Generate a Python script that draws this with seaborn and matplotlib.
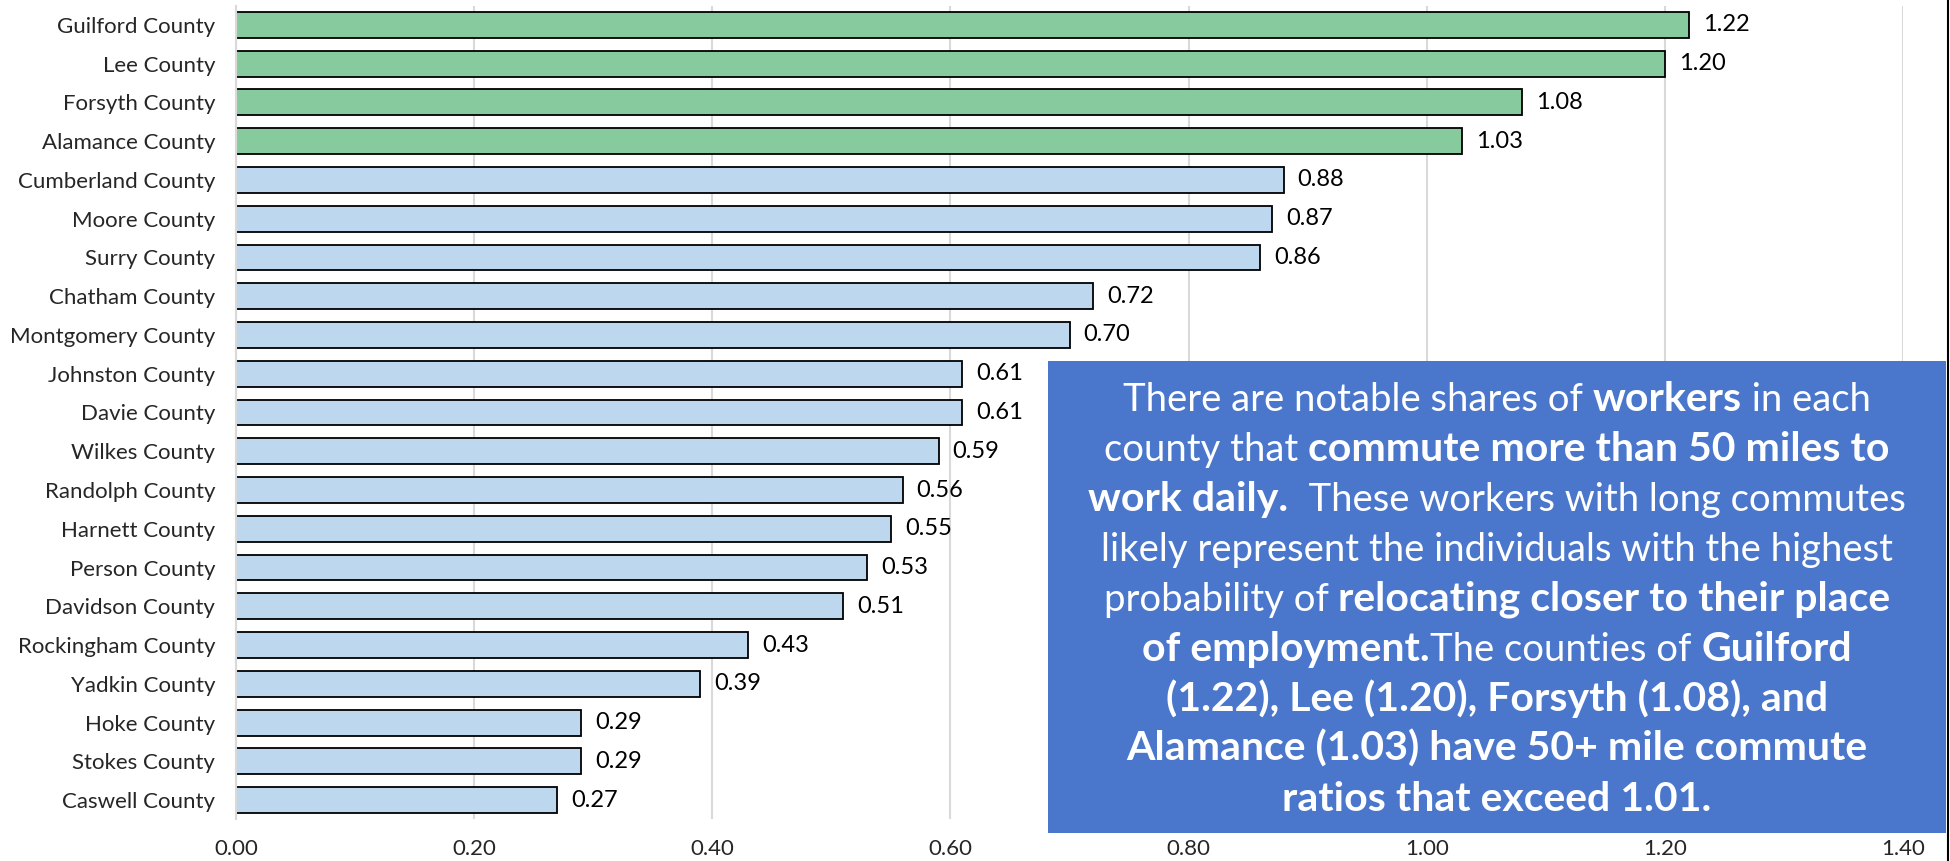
import matplotlib
matplotlib.use("Agg")
import matplotlib.pyplot as plt
from matplotlib.patches import Rectangle
from matplotlib.lines import Line2D
import pandas as pd
import seaborn as sns

# Commute ratio (workers commuting 50+ miles) by county
counties = [
    "Guilford County", "Lee County", "Forsyth County", "Alamance County",
    "Cumberland County", "Moore County", "Surry County", "Chatham County",
    "Montgomery County", "Johnston County", "Davie County", "Wilkes County",
    "Randolph County", "Harnett County", "Person County", "Davidson County",
    "Rockingham County", "Yadkin County", "Hoke County", "Stokes County",
    "Caswell County",
]
ratios = [1.22, 1.20, 1.08, 1.03, 0.88, 0.87, 0.86, 0.72, 0.70, 0.61, 0.61,
          0.59, 0.56, 0.55, 0.53, 0.51, 0.43, 0.39, 0.29, 0.29, 0.27]
threshold = 1.01
x_ticks = [0.0, 0.2, 0.4, 0.6, 0.8, 1.0, 1.2, 1.4]

# Callout text: each line is a list of (text, bold) runs
callout_lines = [
    [("There are notable shares of ", False), ("workers", True), (" in each", False)],
    [("county that ", False), ("commute more than 50 miles to", True)],
    [("work daily.", True), ("  These workers with long commutes", False)],
    [("likely represent the individuals with the highest", False)],
    [("probability of ", False), ("relocating closer to their place", True)],
    [("of employment.", True), ("The counties of ", False), ("Guilford", True)],
    [("(1.22), Lee (1.20), Forsyth (1.08), and", True)],
    [("Alamance (1.03) have 50+ mile commute", True)],
    [("ratios that exceed 1.01.", True)],
]

FONT = "Lato"
GREEN = "#86CA9E"
BLUE = "#BDD7EE"
BOX = "#4A77CC"
GRID = "#D9D9D9"

df = pd.DataFrame({
    "county": counties,
    "ratio": ratios,
    "group": ["above" if r > threshold else "below" for r in ratios],
})

sns.set_style("white")
plt.rcParams["font.family"] = [FONT, "DejaVu Sans"]

W, H = 1950, 861
fig = plt.figure(figsize=(W / 100, H / 100), dpi=100)
ax = fig.add_axes([236 / W, 1 - 819.4 / H, (1903 - 236) / W, (819.4 - 5.6) / H])

sns.barplot(data=df, x="ratio", y="county", hue="group", order=counties,
            palette={"above": GREEN, "below": BLUE}, saturation=1,
            dodge=False, width=0.67, edgecolor="black", linewidth=1.3,
            legend=False, ax=ax)

for cont in ax.containers:
    ax.bar_label(cont, fmt="%.2f", padding=10, fontsize=17, color="black")

ax.set_xlim(0, 1.4)
ax.set_xticks(x_ticks)
ax.set_xticklabels([f"{t:.2f}" for t in x_ticks])
ax.set_xlabel("")
ax.set_ylabel("")
ax.xaxis.grid(True, color=GRID, linewidth=1.5)
ax.set_axisbelow(True)
for side in ["top", "right", "bottom"]:
    ax.spines[side].set_visible(False)
ax.spines["left"].set_color(GRID)
ax.spines["left"].set_linewidth(1.5)
ax.tick_params(axis="y", length=0, pad=15, labelsize=16)
ax.tick_params(axis="x", length=0, pad=14, labelsize=16)

# Callout box
bx0, bx1, by0, by1 = 1048, 1946, 361, 833
fig.patches.append(Rectangle((bx0 / W, 1 - by1 / H), (bx1 - bx0) / W, (by1 - by0) / H,
                             transform=fig.transFigure, facecolor=BOX,
                             edgecolor="none", zorder=5))

# Right frame edge
fig.lines.append(Line2D([0.9988, 0.9988], [0, 1], transform=fig.transFigure,
                        color="black", linewidth=1.5, zorder=6))

renderer = fig.canvas.get_renderer()
FS_REG = 27.5
FS_BOLD = 29.5


def run_props(bold):
    return dict(fontsize=FS_BOLD if bold else FS_REG,
                fontweight="bold" if bold else "normal")


def run_width(s, bold):
    t = fig.text(0, 0, "|" + s + "|", **run_props(bold))
    w = t.get_window_extent(renderer).width
    t.remove()
    t = fig.text(0, 0, "||", **run_props(bold))
    w0 = t.get_window_extent(renderer).width
    t.remove()
    return w - w0


cx = (bx0 + bx1) / 2
for i, line in enumerate(callout_lines):
    widths = [run_width(s, b) for s, b in line]
    x = cx - sum(widths) / 2
    base = 411 + 50 * i
    for (s, b), w in zip(line, widths):
        fig.text(x / W, 1 - base / H, s, color="white", ha="left",
                 va="baseline", zorder=7, **run_props(b))
        x += w

fig.savefig("out.png", dpi=100)
